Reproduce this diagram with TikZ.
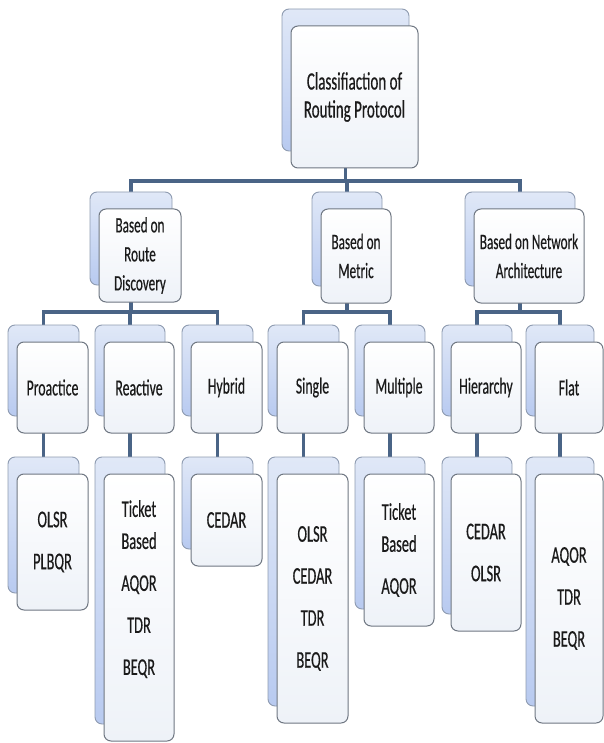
\documentclass[tikz,border=0pt]{standalone}
\usepackage{fontspec}
\setmainfont[FakeStretch=0.6,FakeBold=0.4]{Carlito}
\usetikzlibrary{backgrounds}
\definecolor{conncol}{HTML}{4A6486}
\definecolor{backtop}{HTML}{E0E8F7}
\definecolor{backbot}{HTML}{B8CAF0}
\definecolor{backborder}{HTML}{8E9BB0}
\definecolor{frontbot}{HTML}{EEF2F8}
\definecolor{frontborder}{HTML}{6F7782}
\definecolor{textcol}{HTML}{1A1A1A}
\newcommand\pairbox[7]{%
  \node[backbox,minimum width=#4,minimum height=#5] (#1b) at (#2-9,#3-17) {};
  \node[frontbox,minimum width=#4,minimum height=#5,font=#6] (#1) at (#2,#3) {#7};}
\begin{document}
\begin{tikzpicture}[x=1pt,y=-1pt,
  backbox/.style={draw=backborder,line width=0.9pt,rounded corners=7pt,top color=backtop,bottom color=backbot,inner sep=0pt},
  frontbox/.style={draw=frontborder,line width=1pt,rounded corners=7pt,top color=white,bottom color=frontbot,inner sep=0pt,align=center,text=textcol},
  conn/.style={draw=conncol,line width=3.6pt,line join=miter}]
\useasboundingbox (0,0) rectangle (604,743);
\def\fa{\fontsize{25}{28}\selectfont}
\def\fb{\fontsize{22}{29}\selectfont}
\def\fc{\fontsize{23}{26}\selectfont}
\def\fd{\fontsize{24}{32}\selectfont}
% root
\pairbox{root}{354.5}{97}{127}{142}{\fa}{Classifiaction of\\Routing Protocol}
% level 2
\pairbox{A}{140}{255.5}{82}{93}{\fb}{Based on\\Route\\Discovery}
\pairbox{B}{356}{256}{70}{94}{\fb}{Based on\\Metric}
\pairbox{C}{529}{256}{110}{94}{\fb}{Based on Network\\Architecture}
% level 3
\pairbox{pro}{52.5}{387.5}{71}{91}{\fc}{Proactice}
\pairbox{rea}{139}{387.5}{70}{91}{\fc}{Reactive}
\pairbox{hyb}{226.5}{387.5}{71}{91}{\fc}{Hybrid}
\pairbox{sin}{312.5}{387.5}{71}{91}{\fc}{Single}
\pairbox{mul}{399}{387.5}{70}{91}{\fc}{Multiple}
\pairbox{hie}{486}{387.5}{70}{91}{\fc}{Hierarchy}
\pairbox{fla}{569}{387.5}{68}{91}{\fc}{Flat}
% level 4
\pairbox{proL}{52.5}{542}{71}{136}{\fd}{OLSR\\[10pt]PLBQR}
\pairbox{reaL}{139}{607.5}{70}{267}{\fd}{\begin{tabular}{@{}c@{}}Ticket\\Based\\[10pt]AQOR\\[10pt]TDR\\[10pt]BEQR\\[36pt]\end{tabular}}
\pairbox{hybL}{226.5}{520}{71}{92}{\fd}{CEDAR}
\pairbox{sinL}{312.5}{598.5}{71}{249}{\fd}{OLSR\\[10pt]CEDAR\\[10pt]TDR\\[10pt]BEQR}
\pairbox{mulL}{399}{550}{70}{152}{\fd}{Ticket\\Based\\[10pt]AQOR}
\pairbox{hieL}{486}{552.5}{70}{157}{\fd}{CEDAR\\[10pt]OLSR}
\pairbox{flaL}{569}{598.5}{68}{249}{\fd}{AQOR\\[10pt]TDR\\[10pt]BEQR}
\coordinate (bus1) at (0,181);
\coordinate (bus2) at (0,312);
\begin{pgfonlayer}{background}
\draw[conn] (Ab.north) -- (Ab.north |- bus1) -- (Cb.north |- bus1) -- (Cb.north);
\draw[conn] (rootb.south) -- (rootb.south |- bus1);
\draw[conn] (Bb.north) -- (Bb.north |- bus1);
\draw[conn] (prob.north) -- (prob.north |- bus2) -- (hybb.north |- bus2) -- (hybb.north);
\draw[conn] (Ab.south) -- (Ab.south |- bus2);
\draw[conn] (reab.north) -- (reab.north |- bus2);
\draw[conn] (sinb.north) -- (sinb.north |- bus2) -- (mulb.north |- bus2) -- (mulb.north);
\draw[conn] (Bb.south) -- (Bb.south |- bus2);
\draw[conn] (hieb.north) -- (hieb.north |- bus2) -- (flab.north |- bus2) -- (flab.north);
\draw[conn] (Cb.south) -- (Cb.south |- bus2);
\draw[conn] (prob.south) -- (proLb.north);
\draw[conn] (reab.south) -- (reaLb.north);
\draw[conn] (hybb.south) -- (hybLb.north);
\draw[conn] (sinb.south) -- (sinLb.north);
\draw[conn] (mulb.south) -- (mulLb.north);
\draw[conn] (hieb.south) -- (hieLb.north);
\draw[conn] (flab.south) -- (flaLb.north);
\end{pgfonlayer}
\end{tikzpicture}
\end{document}
